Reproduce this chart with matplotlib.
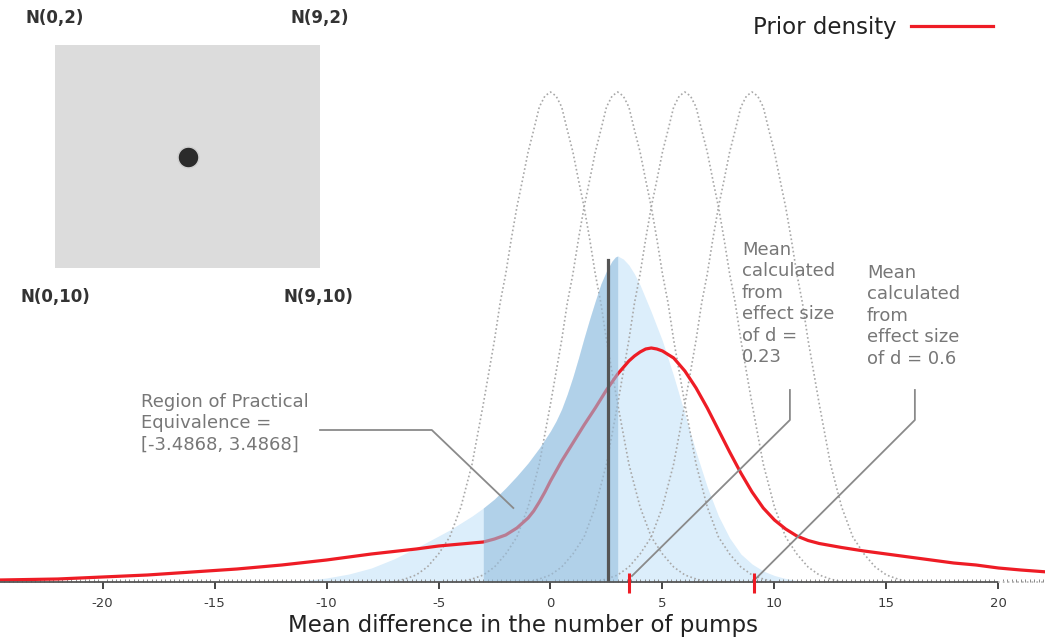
import numpy as np
import matplotlib.pyplot as plt
from matplotlib.ticker import MultipleLocator

# values (heights = px above the x axis)
bell_means = [0, 3, 6, 9]
bell_offset = [0, 0.25, 0.5, 0.75, 1.0, 1.25, 1.5, 1.75, 2.0, 2.25, 2.5, 3.0, 3.5, 4.0, 4.5, 5.0, 5.5, 6.0, 6.5, 7.0]
bell_height = [490, 486, 475, 452, 430, 402, 375, 343, 308, 279, 242, 178, 118, 75, 45, 28, 15, 7, 3, 0]

post_x = [-12, -11, -10, -9, -8, -7, -6, -5.5, -5, -4.5, -4, -3.5, -3, -2.5, -2, -1.5, -1, -0.5, 0,
          0.25, 0.5, 0.75, 1, 1.25, 1.5, 1.75, 2, 2.25, 2.5, 2.75, 2.9, 3, 3.25, 3.5, 3.75, 4,
          4.5, 5, 5.5, 6, 6.5, 7, 7.5, 8, 8.5, 9, 9.5, 10, 10.5, 11, 11.5]
post_h = [0, 1.5, 4, 8, 14, 23, 34, 40, 46, 52, 59, 66, 74, 83, 94, 106, 119, 134, 151,
          161, 173, 188, 205, 224, 244, 263, 281, 298, 311, 321, 325, 326, 323, 317, 308, 297,
          270, 241, 206, 168, 130, 95, 66, 44, 28, 18, 11, 6.5, 3.5, 1.5, 0]

prior_x = [-24.6, -22, -20, -18, -16, -14, -12, -10, -8, -6, -5, -4, -3, -2.5, -2, -1.5, -1, -0.75, -0.5, -0.25,
           0, 0.25, 0.5, 1, 1.5, 2, 2.5, 3, 3.5, 3.75, 4, 4.25, 4.5, 4.75, 5, 5.5, 6, 6.5, 7, 7.5,
           8, 8.5, 9, 9.5, 10, 10.5, 11, 11.5, 12, 13, 14, 15, 16, 17, 18, 19, 20, 21, 22.2]
prior_h = [2, 3, 5, 7, 10, 13, 17, 22, 28, 33, 36, 38, 40, 43, 47, 54, 64, 71, 80, 90,
           101, 111, 121, 139, 157, 174, 192, 208, 221, 226, 230, 233, 234, 233, 231, 224, 211, 194, 174, 152,
           130, 109, 90, 74, 62, 53, 46, 41.5, 38.5, 34.5, 31, 28, 25, 22, 19, 17, 14, 12, 10]

rope = [-3.0, 3.0]
mode_x, mode_h = 2.57, 322
effect_means = [3.4868, 9.096]

dot_mean, dot_sd = 4.5, 6.0

ticks = [-20, -15, -10, -5, 0, 5, 10, 15, 20]
tick_labels = ['-20', '-15', '-10', '-5', '0', '5', '10', '15', '20']

W, H = 1045, 638
fig = plt.figure(figsize=(W / 100, H / 100), dpi=100)


def fx(x):
    return x / W


def fy(y):
    return 1 - y / H


ax = fig.add_axes([0, 56 / H, 1, 582 / H])
ax.set_xlim(-24.58, 22.08)
ax.set_ylim(0, 582)

red = '#ee1c25'

# posterior
ax.fill_between(post_x, post_h, 0, color='#dceefb', lw=0, zorder=1)

# dotted normal curves
offs = np.array(bell_offset)
hts = np.array(bell_height)
shape_x = np.concatenate([-offs[::-1], offs[1:]])
shape_h = np.concatenate([hts[::-1], hts[1:]])
for m in bell_means:
    ax.plot(m + shape_x, shape_h, color='#a8a8a8', ls=(0, (1, 1.5)), lw=1.2, zorder=1.5)

ax.plot(prior_x, prior_h, color=red, lw=2.3, zorder=2, label='Prior density',
        solid_joinstyle='round')

px = np.array(post_x)
mask = (px >= rope[0]) & (px <= rope[1])
ax.fill_between(px, post_h, 0, where=mask, color='#95bede', alpha=0.6, lw=0, zorder=3)

ax.plot([mode_x, mode_x], [0, mode_h], color='#555555', lw=2.3, zorder=4)

# x axis
for s in ax.spines.values():
    s.set_visible(False)
ax.plot([-24.58, 20], [0, 0], color='#555555', lw=1.3, clip_on=False, zorder=5)
ax.plot([20, 22.08], [0, 0], color='#bbbbbb', ls=':', lw=1.3, clip_on=False, zorder=5)
ax.set_yticks([])
ax.set_xticks(ticks)
ax.set_xticklabels(tick_labels)
ax.xaxis.set_minor_locator(MultipleLocator(0.2))
ax.tick_params(axis='x', which='major', direction='out', length=5, width=1.4,
               color='#444444', labelsize=9.5, labelcolor='#3a3a3a', pad=6)
ax.tick_params(axis='x', which='minor', direction='in', length=2, width=0.7, color='#888888')
ax.set_xlabel('Mean difference in the number of pumps', fontsize=16.5, color='#222222', labelpad=3)

# effect size marks
ax.vlines(effect_means, -11, 9, color=red, lw=2.2, clip_on=False, zorder=7)

# leader lines
lead = '#8a8a8a'
ax.plot([-10.29, -5.30, -1.66], [152, 152, 74], color=lead, lw=1.3, zorder=6)
ax.plot([10.69, 10.69, effect_means[0] + 0.15], [192, 162, 6], color=lead, lw=1.3, zorder=6)
ax.plot([16.27, 16.27, effect_means[1] + 0.1], [192, 162, 4], color=lead, lw=1.3, zorder=6)

txt = '#777777'
fig.text(fx(141), fy(393), 'Region of Practical\nEquivalence =\n[-3.4868, 3.4868]',
         fontsize=13, color=txt, va='top', ha='left', linespacing=1.25)
fig.text(fx(742), fy(241), 'Mean\ncalculated\nfrom\neffect size\nof d =\n0.23',
         fontsize=13, color=txt, va='top', ha='left', linespacing=1.25)
fig.text(fx(867), fy(264), 'Mean\ncalculated\nfrom\neffect size\nof d = 0.6',
         fontsize=13, color=txt, va='top', ha='left', linespacing=1.25)

leg = ax.legend(loc='upper right', bbox_to_anchor=(fx(993), fy(16)), bbox_transform=fig.transFigure,
                frameon=False, markerfirst=False, fontsize=16.5, handlelength=3.6,
                handletextpad=0.6, borderaxespad=0, borderpad=0)
for t in leg.get_texts():
    t.set_color('#222222')

# inset: prior parameter space
ins = fig.add_axes([fx(55), fy(268), 265 / W, 223 / H])
ins.set_facecolor('#dcdcdc')
ins.set_xlim(0, 9)
ins.set_ylim(10, 2)
ins.set_xticks([])
ins.set_yticks([])
for s in ins.spines.values():
    s.set_visible(False)
ins.plot(dot_mean, dot_sd, 'o', ms=15, color='#2b2b2b', mec='#cfcfcf', mew=1)

corner = dict(fontsize=12, fontweight='bold', color='#333333', ha='center', va='center')
fig.text(fx(55), fy(18), 'N(0,2)', **corner)
fig.text(fx(320), fy(18), 'N(9,2)', **corner)
fig.text(fx(55), fy(297), 'N(0,10)', **corner)
fig.text(fx(318), fy(297), 'N(9,10)', **corner)

fig.savefig('out.png', dpi=100)
